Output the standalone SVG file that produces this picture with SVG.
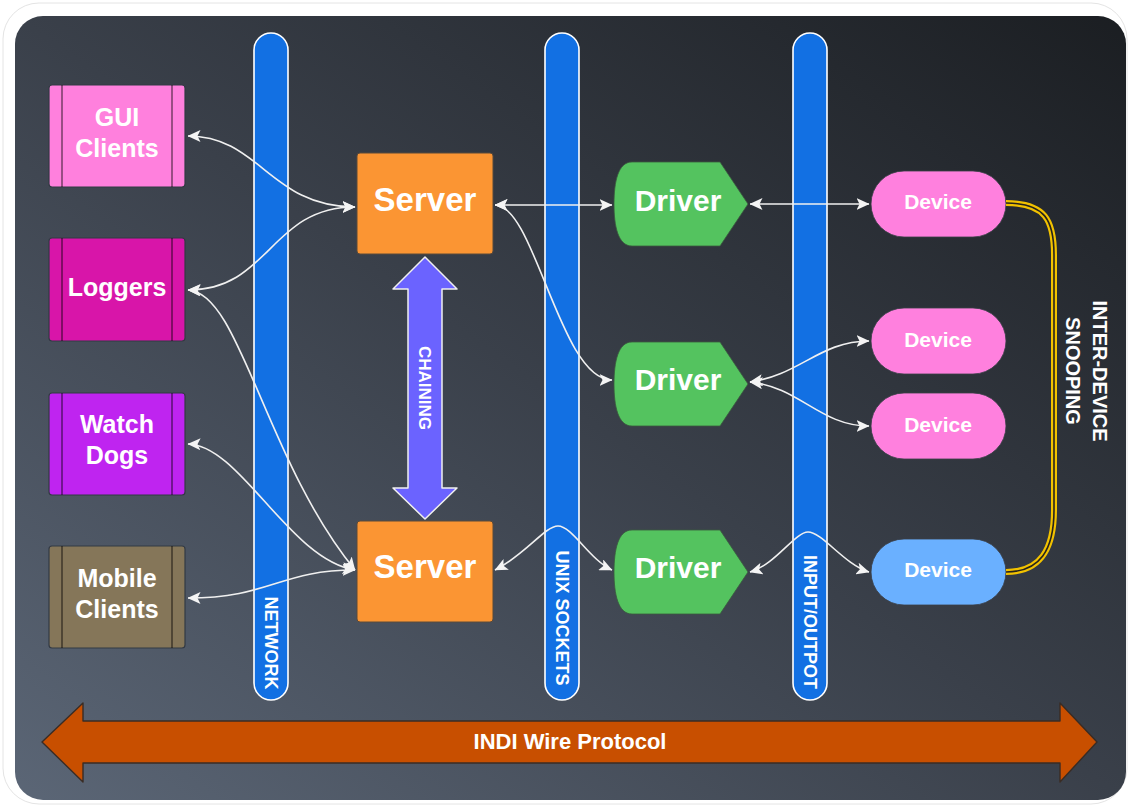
<svg xmlns="http://www.w3.org/2000/svg" width="1130" height="807" viewBox="0 0 1130 807">
<defs>
<linearGradient id="bg" x1="0" y1="1" x2="1" y2="0">
<stop offset="0" stop-color="#5b6676"/>
<stop offset="0.5" stop-color="#3a404a"/>
<stop offset="1" stop-color="#1b1e22"/>
</linearGradient>
<marker id="ah" viewBox="0 0 13 12" refX="12.5" refY="6" markerWidth="13" markerHeight="12" markerUnits="userSpaceOnUse" orient="auto-start-reverse">
<path d="M0,0 L13,6 L0,12 L3,6 Z" fill="#f4f4f4"/>
</marker>
<style>
.t{font-family:"Liberation Sans",Arial,sans-serif;font-weight:bold;fill:#ffffff;text-anchor:middle}
.proc{stroke:#333a44;stroke-width:1.2}
.pl{stroke:#000;stroke-opacity:0.4;stroke-width:2}
.bar{fill:#1270e3;stroke:#ffffff;stroke-width:1.6}
.srv{fill:#fb9533;stroke:#5a4a3a;stroke-width:1}
.drv{fill:#54c35f;stroke:#3a5a3e;stroke-width:0.8}
.dev{stroke:#3a3f48;stroke-width:0.8}
.c{fill:none;stroke:#f0f0f0;stroke-width:1.6;marker-start:url(#ah);marker-end:url(#ah)}
.vt{font-family:"Liberation Sans",Arial,sans-serif;font-weight:bold;fill:#ffffff;text-anchor:middle;dominant-baseline:central}
</style>
</defs>
<rect x="3" y="3" width="1124" height="801" rx="36" fill="#ffffff" stroke="#e4e4e4" stroke-width="1"/>
<rect x="15" y="16" width="1111" height="784" rx="28" fill="url(#bg)"/>

<g id="bar-network">
<rect class="bar" x="254" y="33" width="34" height="667" rx="17"/>
<text class="vt" font-size="18" transform="translate(271,643) rotate(90)">NETWORK</text>
</g>
<g id="bar-unix">
<rect class="bar" x="545" y="33" width="34" height="667" rx="17"/>
<text class="vt" font-size="18" transform="translate(562,618) rotate(90)">UNIX SOCKETS</text>
</g>
<g id="bar-io">
<rect class="bar" x="793" y="33" width="34" height="667" rx="17"/>
<text class="vt" font-size="18" transform="translate(810,622) rotate(90)">INPUT/OUTPOT</text>
</g>

<g id="protocol">
<path d="M42,742 L83,703 L83,721 L1060,721 L1060,703 L1097,742 L1060,782 L1060,763 L83,763 L83,782 Z" fill="#c84f00" stroke="#3a2c24" stroke-width="1.4" stroke-linejoin="round"/>
<text class="t" x="570" y="749" font-size="22">INDI Wire Protocol</text>
</g>

<g id="gui-clients">
<rect class="proc" x="49" y="85" width="136" height="102" rx="3" fill="#ff80dd"/>
<line class="pl" x1="62" y1="85" x2="62" y2="187"/><line class="pl" x1="172" y1="85" x2="172" y2="187"/>
<text class="t" x="117" y="126" font-size="25">GUI</text>
<text class="t" x="117" y="157" font-size="25">Clients</text>
</g>
<g id="loggers">
<rect class="proc" x="49" y="238" width="136" height="103" rx="3" fill="#d815a9"/>
<line class="pl" x1="62" y1="238" x2="62" y2="341"/><line class="pl" x1="172" y1="238" x2="172" y2="341"/>
<text class="t" x="117" y="296" font-size="25">Loggers</text>
</g>
<g id="watch-dogs">
<rect class="proc" x="49" y="393" width="136" height="102" rx="3" fill="#bf24f0"/>
<line class="pl" x1="62" y1="393" x2="62" y2="495"/><line class="pl" x1="172" y1="393" x2="172" y2="495"/>
<text class="t" x="117" y="433" font-size="25">Watch</text>
<text class="t" x="117" y="464" font-size="25">Dogs</text>
</g>
<g id="mobile-clients">
<rect class="proc" x="49" y="546" width="136" height="102" rx="3" fill="#857659"/>
<line class="pl" x1="62" y1="546" x2="62" y2="648"/><line class="pl" x1="172" y1="546" x2="172" y2="648"/>
<text class="t" x="117" y="587" font-size="25">Mobile</text>
<text class="t" x="117" y="618" font-size="25">Clients</text>
</g>

<g id="server-1">
<rect class="srv" x="357" y="153" width="136" height="101" rx="3"/>
<text class="t" x="425" y="211" font-size="33">Server</text>
</g>
<g id="server-2">
<rect class="srv" x="357" y="521" width="136" height="101" rx="3"/>
<text class="t" x="425" y="578" font-size="33">Server</text>
</g>

<g id="chaining">
<path d="M425,257 L457,289 L442,289 L442,488 L457,488 L425,519 L393,488 L408,488 L408,289 L393,289 Z" fill="#6b63ff" stroke="#f0f0f0" stroke-width="1.5" stroke-linejoin="round"/>
<text class="vt" font-size="17" transform="translate(424,388) rotate(90)">CHAINING</text>
</g>

<g id="driver-1">
<path class="drv" d="M632,162 H720 L748,204 L720,246 H632 C618,246 614,226 614,204 C614,182 618,162 632,162 Z"/>
<text class="t" x="678" y="211" font-size="30">Driver</text>
</g>
<g id="driver-2">
<path class="drv" d="M632,342 H720 L748,384 L720,426 H632 C618,426 614,406 614,384 C614,362 618,342 632,342 Z"/>
<text class="t" x="678" y="390" font-size="30">Driver</text>
</g>
<g id="driver-3">
<path class="drv" d="M632,530 H720 L748,572 L720,614 H632 C618,614 614,594 614,572 C614,550 618,530 632,530 Z"/>
<text class="t" x="678" y="578" font-size="30">Driver</text>
</g>

<g id="device-1">
<rect class="dev" x="871" y="171" width="135" height="66" rx="33" fill="#ff80de"/>
<text class="t" x="938" y="209" font-size="21">Device</text>
</g>
<g id="device-2">
<rect class="dev" x="871" y="308" width="135" height="66" rx="33" fill="#ff80de"/>
<text class="t" x="938" y="347" font-size="21">Device</text>
</g>
<g id="device-3">
<rect class="dev" x="871" y="393" width="135" height="66" rx="33" fill="#ff80de"/>
<text class="t" x="938" y="432" font-size="21">Device</text>
</g>
<g id="device-4">
<rect class="dev" x="871" y="539" width="135" height="66" rx="33" fill="#6ab0ff"/>
<text class="t" x="938" y="577" font-size="21">Device</text>
</g>

<g id="snooping">
<path d="M1006,203 C1045,203 1054,220 1054,255 L1054,510 C1054,550 1040,572 1006,572" fill="none" stroke="#f2c200" stroke-width="6"/>
<path d="M1006,203 C1045,203 1054,220 1054,255 L1054,510 C1054,550 1040,572 1006,572" fill="none" stroke="#26231c" stroke-width="1.6"/>
<text class="t" font-size="20" fill="#eeeeee" transform="translate(1100,371) rotate(90)" dy="0.35em">INTER-DEVICE</text>
<text class="t" font-size="20" fill="#eeeeee" transform="translate(1073,371) rotate(90)" dy="0.35em">SNOOPING</text>
</g>

<g id="connectors">
<path class="c" d="M188,136 C260,136 270,207 355,207"/>
<path class="c" d="M188,290 C270,290 270,207 355,207"/>
<path class="c" d="M188,290 C240,292 265,460 355,570"/>
<path class="c" d="M188,444 C240,445 290,560 355,570"/>
<path class="c" d="M188,598 C270,598 280,570 355,570"/>
<path class="c" d="M495,205 L612,205"/>
<path class="c" d="M495,205 C535,205 560,380 612,380"/>
<path class="c" d="M495,570 C525,555 545,526 558,526 C572,526 590,560 612,570"/>
<path class="c" d="M750,204 L869,204"/>
<path class="c" d="M750,382 C800,375 820,341 869,341"/>
<path class="c" d="M750,382 C800,387 820,426 869,426"/>
<path class="c" d="M750,572 C775,565 795,532 808,532 C822,532 845,565 869,572"/>
</g>
</svg>
